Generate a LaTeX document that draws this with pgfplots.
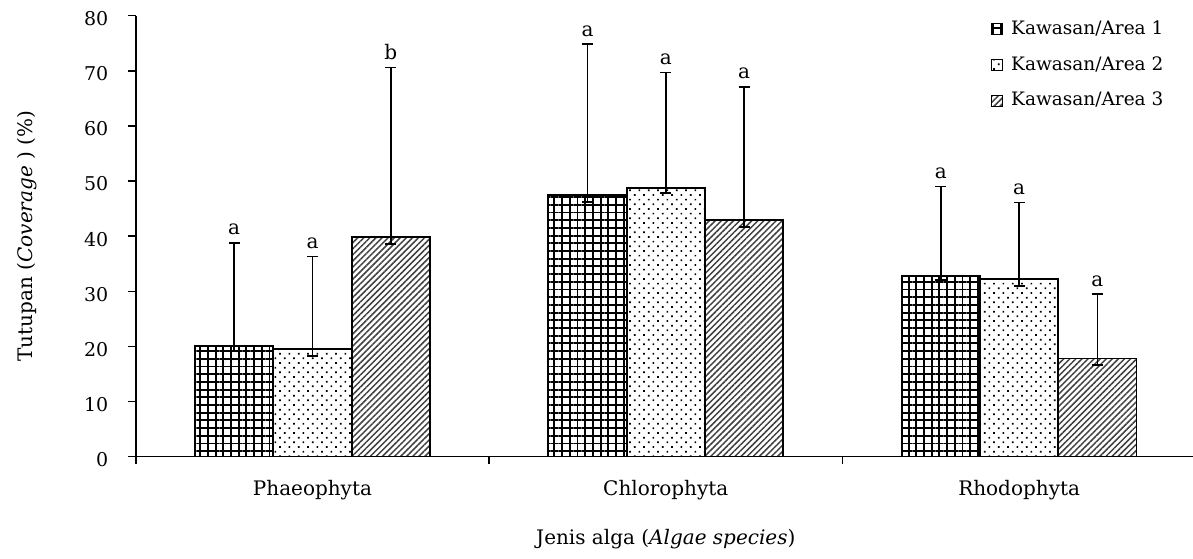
\documentclass[border=0pt]{standalone}
\usepackage{fontspec}
\setmainfont{DejaVu Serif}
\usepackage{pgfplots}
\pgfplotsset{compat=1.18}
\usetikzlibrary{patterns.meta}

\pgfplotstableread{
x y ep em
-0.2216 20.1 18.7 0.9
0.7784 47.5 27.3 1.3
1.7784 32.8 16.2 0.8
}\areaone
\pgfplotstableread{
x y ep em
0 19.5 16.8 1.2
1 48.8 20.9 1.0
2 32.2 13.9 1.2
}\areatwo
\pgfplotstableread{
x y ep em
0.2216 39.9 30.7 1.3
1.2216 42.9 24.2 1.3
2.2216 17.8 11.7 1.2
}\areathree
\pgfplotstableread{
x y lab
-0.2216 38.8 a
0 36.3 a
0.2216 70.6 b
0.7784 74.8 a
1 69.7 a
1.2216 67.1 a
1.7784 49.0 a
2 46.1 a
2.2216 29.5 a
}\letters

\begin{document}
\begin{tikzpicture}[x=1pt,y=1pt]
\path[use as bounding box] (0,0) rectangle (1193,559);
\begin{axis}[
  at={(135.8pt,102.3pt)}, anchor=south west,
  scale only axis, width=1060pt, height=441pt,
  xmin=-0.5, xmax=2.5, ymin=0, ymax=80,
  axis x line=bottom, axis y line=left,
  axis line style={-, line width=1.5pt, black},
  ytick={0,10,...,80},
  xtick={0,1,2}, xticklabels={Phaeophyta,Chlorophyta,Rhodophyta},
  minor xtick={-0.5,0.5,1.5},
  tick align=outside, major tick length=8pt, minor tick length=7pt,
  tick style={line width=1.5pt, black},
  major x tick style={draw=none},
  /pgf/number format/assume math mode=true,
  yticklabel style={font=\fontsize{19}{19}\selectfont, anchor=east, yshift=-3pt, xshift=-16pt},
  xticklabel style={font=\fontsize{20}{20}\selectfont, anchor=base, yshift=-31pt},
  xlabel={Jenis alga (\textit{Algae species})},
  ylabel={Tutupan (\textit{Coverage} ) (\%)},
  every axis x label/.style={at={(axis description cs:0.5,-0.198)}, anchor=base, font=\fontsize{20}{20}\selectfont},
  every axis y label/.style={at={(axis description cs:-0.1026,0.5)}, anchor=center, rotate=90, font=\fontsize{20}{20}\selectfont},
  legend style={draw=none, fill=none, font=\fontsize{18.5}{18.5}\selectfont,
    at={(axis description cs:0.8063,0.9896)}, anchor=north west, row sep=17.75pt,
    inner sep=0pt, nodes={inner xsep=8.5pt, inner ysep=0pt, text height=14pt, text depth=4pt}},
  legend cell align=left,
  mylegend/.style={legend image code/.code={\draw[##1, line width=1pt] (0pt,-5.5pt) rectangle (11pt,5.5pt);}},
  mybar/.style={ybar, bar width=0.2216, bar shift=0pt, draw=black, line width=1.8pt,
    error bars/y dir=both, error bars/y explicit,
    error bars/error bar style={line width=1.8pt, black, solid},
    error bars/error mark=|,
    error bars/error mark options={black, mark size=5.5pt, line width=1.8pt}},
]
\addplot[mybar, pattern={Hatch[angle=0, distance=7.7pt, line width=1.9pt]}, pattern color=black, mylegend]
  table[x=x, y=y, y error plus=ep, y error minus=em] {\areaone};
\addlegendentry{Kawasan/Area 1}
\addplot[mybar, pattern={Dots[angle=45, distance=6.6pt, radius=1.2pt]}, pattern color=black, mylegend]
  table[x=x, y=y, y error plus=ep, y error minus=em] {\areatwo};
\addlegendentry{Kawasan/Area 2}
\addplot[mybar, pattern={Lines[angle=45, distance=4.3pt, line width=1.5pt]}, pattern color=black!75, mylegend]
  table[x=x, y=y, y error plus=ep, y error minus=em] {\areathree};
\addlegendentry{Kawasan/Area 3}
\addplot[draw=none, mark=none, forget plot, nodes near coords, point meta=explicit symbolic,
  nodes near coords style={anchor=base, yshift=8pt, inner sep=0pt, font=\fontsize{20}{20}\selectfont}]
  table[x=x, y=y, meta=lab] {\letters};
\end{axis}
\end{tikzpicture}
\end{document}
